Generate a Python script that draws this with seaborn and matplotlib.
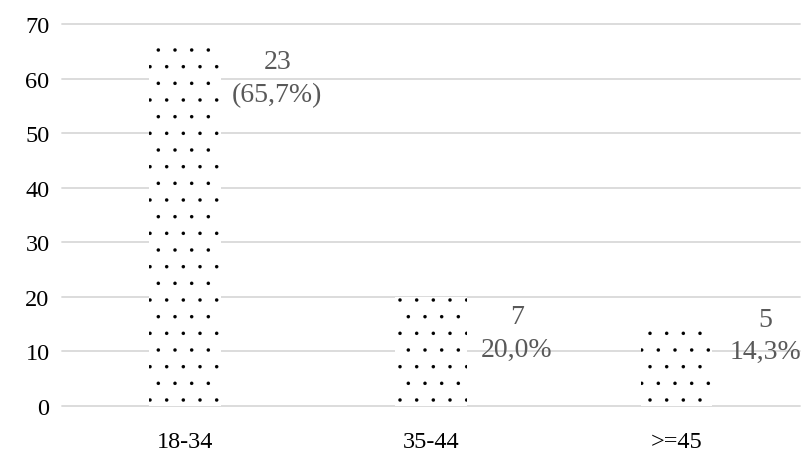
import matplotlib
matplotlib.use("Agg")
import matplotlib.pyplot as plt
import seaborn as sns

# data
age_groups = ["18-34", "35-44", ">=45"]
percent = [65.7, 20.0, 14.3]
counts = [23, 7, 5]
pct_text = ["(65,7%)", "20,0%", "14,3%"]

# label placement: shift right of bar centre (category units), drop below bar top (points)
label_dx = [0.375, 0.35, 0.36]
label_dy = [22, 26, 5.5]

sns.set_theme(style="white")
plt.rcParams["font.family"] = ["Liberation Serif", "DejaVu Serif"]
plt.rcParams["hatch.linewidth"] = 0.1

fig = plt.figure(figsize=(8.03, 4.52), dpi=100)
ax = fig.add_axes([0.0772, 0.0996, 0.9188, 0.8451])

sns.barplot(x=age_groups, y=percent, color="white", width=0.29, ax=ax, zorder=2)
for p in ax.patches:
    p.set_facecolor("white")
    p.set_hatch(".")
    p.set_edgecolor("black")
    p.set_linewidth(0)

ax.set_ylim(0, 70)
ax.set_xlim(-0.5, 2.5)
ax.set_yticks(range(0, 71, 10))
ax.yaxis.grid(True, color="#d9d9d9", linewidth=1.3)
ax.set_axisbelow(True)
for line in ax.get_ygridlines():
    line.set_clip_on(False)
sns.despine(ax=ax, left=True, bottom=True)
ax.set_xlabel("")
ax.set_ylabel("")
ax.tick_params(axis="y", length=0, pad=9, labelsize=17.5, labelcolor="black")
ax.tick_params(axis="x", length=0, pad=18, labelsize=17.5, labelcolor="black")

for p, c, t, dx, dy in zip(ax.patches, counts, pct_text, label_dx, label_dy):
    x = p.get_x() + p.get_width() / 2 + dx
    ax.annotate(f"{c}\n{t}", (x, p.get_height()), xytext=(0, -dy),
                textcoords="offset points", ha="center", va="center",
                fontsize=20, color="#595959", linespacing=1.4)

fig.savefig("out.png", dpi=100)
